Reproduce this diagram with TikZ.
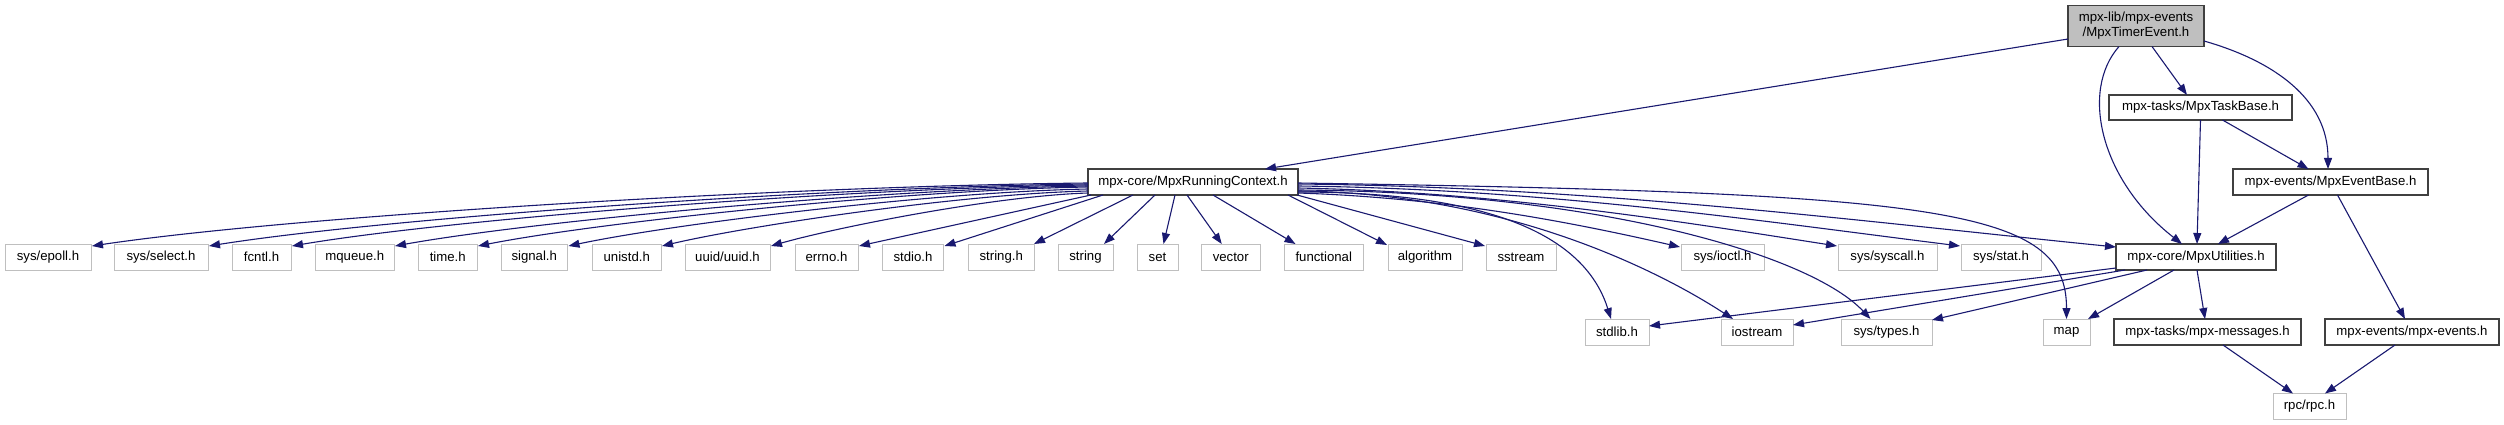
\documentclass[tikz,border=0pt]{standalone}
\usepackage{fontspec}
\setmainfont{Liberation Sans}
\usetikzlibrary{arrows.meta,calc}
\definecolor{edgeblue}{HTML}{191970}
\definecolor{extgray}{HTML}{BFBFBF}
\definecolor{docgray}{HTML}{404040}
\tikzset{
  box/.style={rectangle, minimum height=26pt, inner sep=0pt, outer sep=0pt, font=\fontsize{13.2}{15}\selectfont},
  ext/.style={box, draw=extgray, line width=1pt, fill=white},
  doc/.style={box, draw=docgray, line width=1.4pt, fill=white},
  mainnode/.style={box, draw=docgray, line width=1.4pt, fill=extgray, align=center},
  e/.style={draw=edgeblue, line width=1.1pt, -{Triangle[length=11pt,width=8pt]}}
}
\begin{document}
\begin{tikzpicture}[x=1pt,y=-1pt]
\useasboundingbox (0,0) rectangle (2504,425);
\fill[white] (0,0) rectangle (2504,425);
% top
\node[mainnode, minimum width=136pt, minimum height=41pt] (timer) at (2136,26) {mpx-lib/mpx-events\\/MpxTimerEvent.h};
\node[doc, minimum width=183pt, minimum height=25pt] (task) at (2200.5,107.5) {mpx-tasks/MpxTaskBase.h};
\node[doc, minimum width=210pt] (rc) at (1193,182) {mpx-core/MpxRunningContext.h};
\node[doc, minimum width=195pt] (evb) at (2330.5,182) {mpx-events/MpxEventBase.h};
% row A
\node[ext, minimum width=86pt] (epoll) at (48,257) {sys/epoll.h};
\node[ext, minimum width=94pt] (select) at (161,257) {sys/select.h};
\node[ext, minimum width=59pt] (fcntl) at (261.5,257) {fcntl.h};
\node[ext, minimum width=78.5pt] (mqueue) at (354.75,257) {mqueue.h};
\node[ext, minimum width=58.5pt] (time) at (447.75,257) {time.h};
\node[ext, minimum width=66.5pt] (signal) at (534.25,257) {signal.h};
\node[ext, minimum width=68.5pt] (unistd) at (626.75,257) {unistd.h};
\node[ext, minimum width=85pt] (uuid) at (727.5,257) {uuid/uuid.h};
\node[ext, minimum width=63pt] (errno) at (826.5,257) {errno.h};
\node[ext, minimum width=61pt] (stdio) at (913,257) {stdio.h};
\node[ext, minimum width=65.5pt] (stringh) at (1001.25,257) {string.h};
\node[ext, minimum width=55pt] (string) at (1085.5,257) {string};
\node[ext, minimum width=41pt] (set) at (1157.5,257) {set};
\node[ext, minimum width=58.5pt] (vector) at (1230.75,257) {vector};
\node[ext, minimum width=78.5pt] (functional) at (1323.75,257) {functional};
\node[ext, minimum width=74pt] (algorithm) at (1425,257) {algorithm};
\node[ext, minimum width=70pt] (sstream) at (1521,257) {sstream};
\node[ext, minimum width=83pt] (ioctl) at (1722.5,257) {sys/ioctl.h};
\node[ext, minimum width=99pt] (syscall) at (1887.5,257) {sys/syscall.h};
\node[ext, minimum width=80pt] (stat) at (2001,257) {sys/stat.h};
\node[doc, minimum width=160pt] (util) at (2196,257) {mpx-core/MpxUtilities.h};
% row B
\node[ext, minimum width=64pt] (stdlib) at (1617,332) {stdlib.h};
\node[ext, minimum width=72pt] (iostream) at (1757,332) {iostream};
\node[ext, minimum width=91pt] (types) at (1886.5,332) {sys/types.h};
\node[ext, minimum width=47pt] (map) at (2066.5,332) {map};
\node[doc, minimum width=187pt] (msgs) at (2207.5,332) {mpx-tasks/mpx-messages.h};
\node[doc, minimum width=174pt] (events) at (2412,332) {mpx-events/mpx-events.h};
\node[ext, minimum width=73pt] (rpc) at (2309.5,406.5) {rpc/rpc.h};

% timer edges
\draw[e] ($(timer.west)+(0,13)$) -- ($(rc.north)+(72,0)$);
\draw[e] ($(timer.south)+(16,0)$) -- ($(task.north)+(-13.5,0)$);
\draw[e] ($(timer.east)+(0,15)$) .. controls +(70,20) and +(0,-70) .. ($(evb.north)+(-2.5,0)$);
\draw[e] ($(timer.south)+(-17,0)$) .. controls +(-39,44) and +(-82,-64) .. ($(util.north)+(-14,0)$);
\draw[e] (task.south) -- ($(util.north)+(1,0)$);
\draw[e] ($(task.south)+(22,0)$) -- ($(evb.north)+(-22,0)$);
\draw[e] ($(evb.south)+(-22,0)$) -- ($(util.north)+(22,0)$);
\draw[e] ($(evb.south)+(7,0)$) -- ($(events.north)+(-7,0)$);

% rc left curves
\draw[e] ($(rc.west)+(0,1)$) .. controls +(-300,3) and +(200,-30) .. ($(epoll.north east)+(1,2)$);
\draw[e] ($(rc.west)+(0,2)$) .. controls +(-264,3) and +(176,-28) .. ($(select.north east)+(1,2)$);
\draw[e] ($(rc.west)+(0,3)$) .. controls +(-239,3) and +(159,-27) .. ($(fcntl.north east)+(1,2)$);
\draw[e] ($(rc.west)+(0,4)$) .. controls +(-208,3) and +(139,-25) .. ($(mqueue.north east)+(1,2)$);
\draw[e] ($(rc.west)+(0,5)$) .. controls +(-183,3) and +(122,-24) .. ($(time.north east)+(1,2)$);
\draw[e] ($(rc.west)+(0,7)$) .. controls +(-156,3) and +(104,-22) .. ($(signal.north east)+(1,2)$);
\draw[e] ($(rc.west)+(0,9)$) .. controls +(-128,3) and +(85,-20) .. ($(unistd.north east)+(1,2)$);
\draw[e] ($(rc.west)+(0,11)$) .. controls +(-95,3) and +(63,-18) .. ($(uuid.north east)+(1,2)$);
\draw[e] ($(rc.south west)+(3,0)$) -- ($(errno.north east)+(1,2)$);
\draw[e] ($(rc.south west)+(15,0)$) -- ($(stdio.north east)+(1,2)$);
\draw[e] ($(rc.south west)+(45,0)$) -- (stringh.north east);
\draw[e] ($(rc.south west)+(67,0)$) -- ($(string.north east)+(-9,0)$);
\draw[e] ($(rc.south west)+(87,0)$) -- ($(set.north)+(6,0)$);
\draw[e] ($(rc.south west)+(99,0)$) -- ($(vector.north)+(-9,0)$);
\draw[e] ($(rc.south west)+(125,0)$) -- ($(functional.north west)+(11,0)$);
\draw[e] ($(rc.south east)+(-10,0)$) -- ($(algorithm.north west)+(-1,1)$);
\draw[e] ($(rc.south east)+(-1,0)$) -- ($(sstream.north west)+(-1,2)$);

% rc right curves
\draw[e] ($(rc.east)+(0,1)$) .. controls +(650,10) and +(0,-110) .. (map.north);
\draw[e] ($(rc.east)+(0,2)$) .. controls +(300,3) and +(-250,-25) .. ($(util.north west)+(0,3)$);
\draw[e] ($(rc.east)+(0,4)$) .. controls +(250,3) and +(-200,-25) .. ($(stat.north west)+(-1,2)$);
\draw[e] ($(rc.east)+(0,6)$) .. controls +(200,4) and +(-160,-25) .. ($(syscall.north west)+(-1,2)$);
\draw[e] ($(rc.east)+(0,11)$) .. controls +(150,5) and +(-110,-25) .. ($(ioctl.north west)+(-1,3)$);
\draw[e] ($(rc.east)+(0,8)$) .. controls +(300,2) and +(-60,-64) .. ($(types.north)+(-16,0)$);
\draw[e] ($(rc.east)+(0,9)$) .. controls +(200,2) and +(-83,-54) .. ($(iostream.north)+(-24,0)$);
\draw[e] ($(rc.east)+(0,10)$) .. controls +(200,0) and +(-25,-80) .. ($(stdlib.north)+(-6,0)$);

% util edges
\draw[e] ($(util.south west)+(0,-2)$) -- ($(stdlib.east)+(0,-6)$);
\draw[e] ($(util.south west)+(9,0)$) -- ($(iostream.east)+(0,-7)$);
\draw[e] ($(util.south west)+(31,0)$) -- ($(types.north east)+(0,1)$);
\draw[e] ($(util.south)+(-22,0)$) -- ($(map.north east)+(-2,0)$);
\draw[e] ($(util.south)+(1,0)$) -- ($(msgs.north)+(-2.5,0)$);
\draw[e] ($(msgs.south)+(15.5,0)$) -- ($(rpc.north)+(-16.5,0)$);
\draw[e] ($(events.south)+(-17,0)$) -- ($(rpc.north)+(15.5,0)$);
\end{tikzpicture}
\end{document}
